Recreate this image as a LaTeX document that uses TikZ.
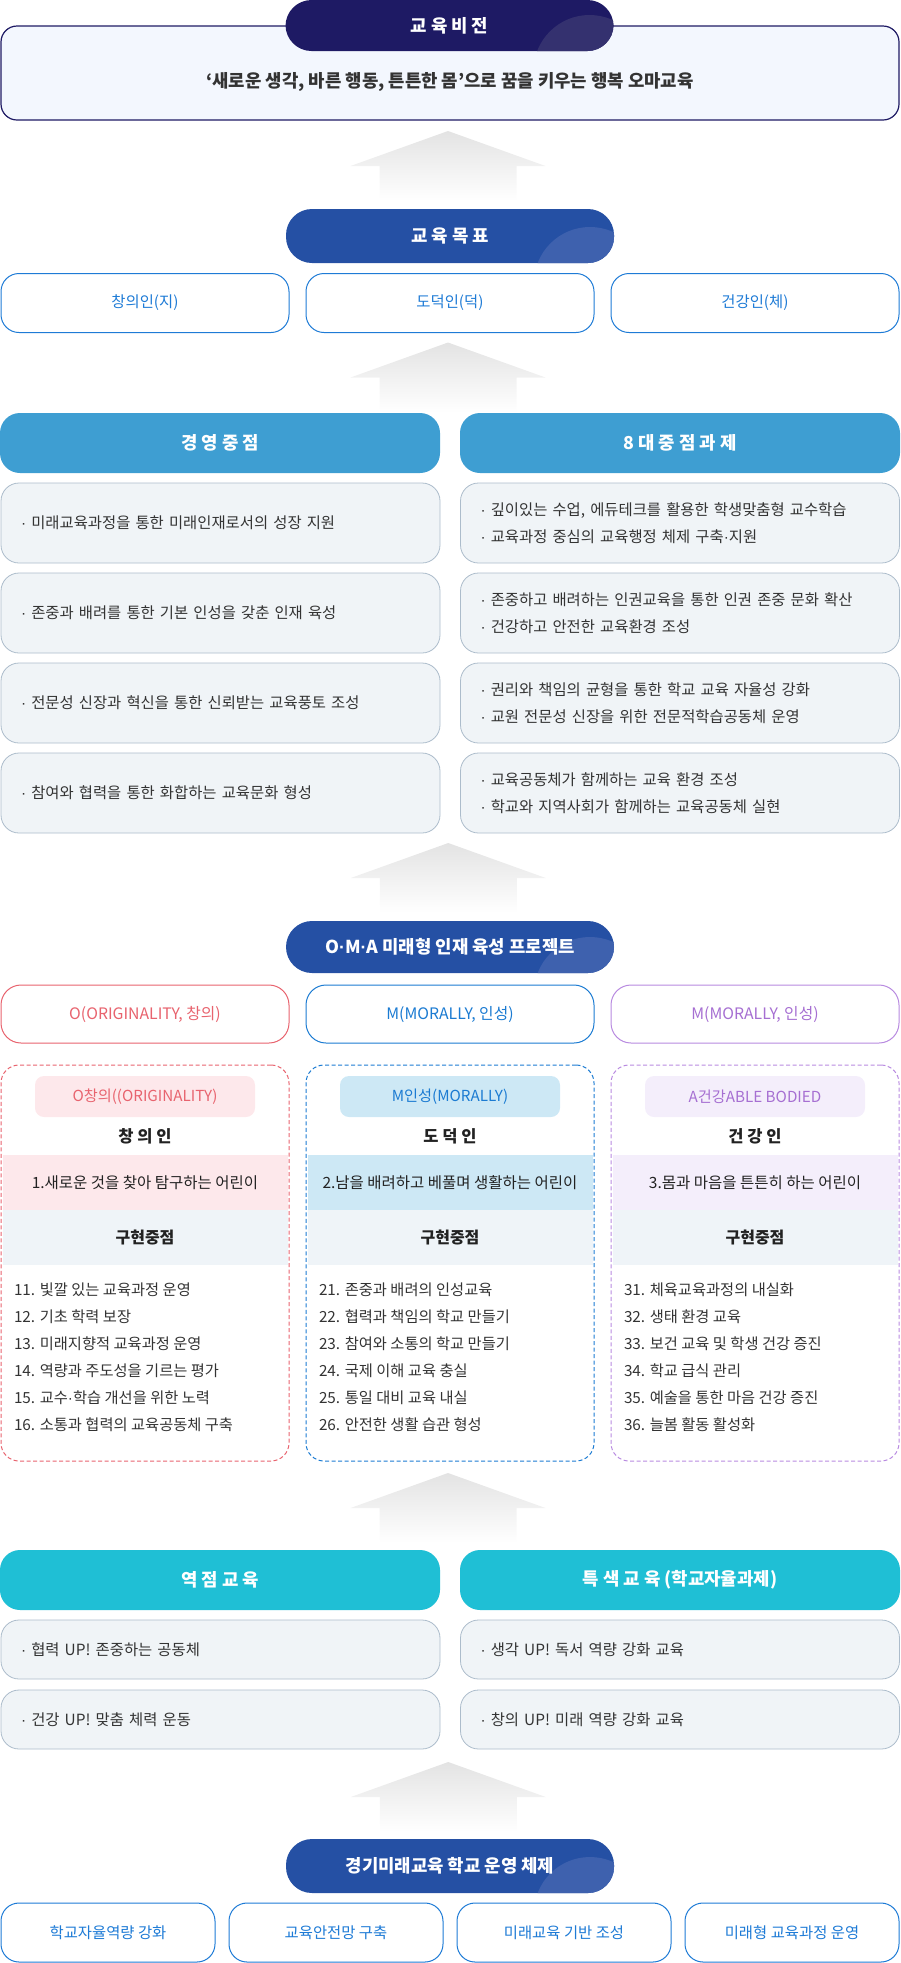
\documentclass[tikz,border=0pt]{standalone}
\usepackage{fontspec}
\usetikzlibrary{calc}
\setmainfont{Noto Sans CJK KR}
\newfontfamily\dotfont{Liberation Sans}
\newcommand\mdot{{\dotfont ·}}
\definecolor{navy}{HTML}{1E1A64}
\definecolor{deconavy}{HTML}{34316F}
\definecolor{pillblue}{HTML}{2550A4}
\definecolor{decoblue}{HTML}{3E61AE}
\definecolor{vfill}{HTML}{F3F7FE}
\definecolor{goalblue}{HTML}{1E7BD6}
\definecolor{hdrblue}{HTML}{3E9ED2}
\definecolor{hdrcyan}{HTML}{1FBFD5}
\definecolor{rowfill}{HTML}{F0F4F7}
\definecolor{rowline}{HTML}{ACBCCB}
\definecolor{txt}{HTML}{333333}
\definecolor{dark}{HTML}{222222}
\definecolor{ored}{HTML}{E8636E}
\definecolor{oredfill}{HTML}{FDE8EB}
\definecolor{mblue}{HTML}{1B7BD2}
\definecolor{mbluefill}{HTML}{CDE8F5}
\definecolor{apurple}{HTML}{A66FD2}
\definecolor{aline}{HTML}{B88AE0}
\definecolor{apfill}{HTML}{F4EEFB}
\definecolor{bandgray}{HTML}{EFF4F8}
\tikzset{
  uparrow/.pic={\shade[top color=black!11, bottom color=white]
    (0,0) -- (97.5,35) -- (68.5,35) -- (68.5,70) -- (-68.5,70) -- (-68.5,35) -- (-97.5,35) -- cycle;}
}
\begin{document}
\begin{tikzpicture}[x=1pt,y=-1pt,
  every node/.style={outer sep=0pt, inner sep=0pt},
  pill/.style={rectangle, rounded corners=26pt, minimum width=328pt, minimum height=#1,
    text=white, font=\bfseries\fontsize{17.8}{21}\selectfont},
  pill/.default=54pt,
  deco/.style={path picture={\fill[#1] ([xshift=-24pt,yshift=-20pt]path picture bounding box.south east) circle[radius=56pt];}},
  goalbox/.style={draw=goalblue, line width=1pt, fill=white, rounded corners=18pt,
    minimum width=#1, minimum height=59pt, text=goalblue, font=\fontsize{15.4}{18}\selectfont},
  hdr/.style={fill=#1, rounded corners=20pt, minimum width=440pt, minimum height=60pt,
    text=white, font=\bfseries\fontsize{17.8}{21}\selectfont},
  rowbox/.style={draw=rowline, line width=0.8pt, fill=rowfill, rounded corners=18pt,
    minimum height=#1, text width=399pt, inner xsep=20pt, align=left, text=txt,
    font=\fontsize{15.4}{27}\selectfont},
  rowbox/.default=80pt,
  omabox/.style={draw=#1, line width=1pt, fill=white, rounded corners=20pt,
    minimum width=288pt, minimum height=58pt, text=#1, font=\fontsize{15.8}{19}\selectfont},
  tagbox/.style={fill=#1, rounded corners=9pt, minimum width=220pt, minimum height=41pt,
    font=\fontsize{15.2}{18}\selectfont},
  band/.style={fill=#1, minimum width=285pt, minimum height=55pt, text=dark,
    font=\fontsize{15.5}{18}\selectfont},
  heading/.style={text=dark, font=\bfseries\fontsize{16.5}{19}\selectfont},
  dbox/.style={draw=#1, line width=1pt, dash pattern=on 4pt off 2.5pt, rounded corners=18pt,
    minimum width=288pt, minimum height=396pt},
  listtext/.style={anchor=west, align=left, text=txt, font=\fontsize{15.3}{27}\selectfont}
]
\useasboundingbox (0,0) rectangle (900,1963);

% ---------- vision ----------
\node[draw=navy, line width=1.2pt, fill=vfill, rounded corners=16pt,
  minimum width=898pt, minimum height=94pt] (vbox) at (450,73) {};
\node[text=txt, font=\bfseries\fontsize{17.8}{21}\selectfont] (vtext) at (450,82)
  {‘새로운 생각, 바른 행동, 튼튼한 몸’으로 꿈을 키우는 행복 오마교육};
\node[pill=51pt, fill=navy, deco=deconavy] (vpill) at (449.5,25.5) {교 육 비 전};

\pic at ([xshift=-2pt,yshift=-11pt]vbox.south) {uparrow};

% ---------- goals ----------
\node[pill, fill=pillblue, deco=decoblue] (gpill) at (450,236) {교 육 목 표};
\node[goalbox=288pt] (g1) at (145,303) {창의인(지)};
\node[goalbox=288pt] (g2) at (450,303) {도덕인(덕)};
\node[goalbox=288pt] (g3) at (755,303) {건강인(체)};

\pic at ([xshift=-2pt,yshift=-10pt]g2.south) {uparrow};

% ---------- 경영중점 / 8대 중점과제 ----------
\node[hdr=hdrblue] (h1) at (220,443) {경 영 중 점};
\node[hdr=hdrblue] (h2) at (680,443) {8 대 중 점 과 제};

\node[rowbox] (l1) at (220.5,523) {\mdot{} 미래교육과정을 통한 미래인재로서의 성장 지원};
\node[rowbox] (l2) at (220.5,613) {\mdot{} 존중과 배려를 통한 기본 인성을 갖춘 인재 육성};
\node[rowbox] (l3) at (220.5,703) {\mdot{} 전문성 신장과 혁신을 통한 신뢰받는 교육풍토 조성};
\node[rowbox] (l4) at (220.5,793) {\mdot{} 참여와 협력을 통한 화합하는 교육문화 형성};

\node[rowbox] (r1) at (680,523) {\mdot{} 깊이있는 수업, 에듀테크를 활용한 학생맞춤형 교수학습\\\mdot{} 교육과정 중심의 교육행정 체제 구축\mdot{}지원};
\node[rowbox] (r2) at (680,613) {\mdot{} 존중하고 배려하는 인권교육을 통한 인권 존중 문화 확산\\\mdot{} 건강하고 안전한 교육환경 조성};
\node[rowbox] (r3) at (680,703) {\mdot{} 권리와 책임의 균형을 통한 학교 교육 자율성 강화\\\mdot{} 교원 전문성 신장을 위한 전문적학습공동체 운영};
\node[rowbox] (r4) at (680,793) {\mdot{} 교육공동체가 함께하는 교육 환경 조성\\\mdot{} 학교와 지역사회가 함께하는 교육공동체 실현};

\pic at ([xshift=-2pt,yshift=-10pt]$(l4.south)!0.5!(r4.south)$) {uparrow};

% ---------- OMA ----------
\node[pill=52pt, fill=pillblue, deco=decoblue] (opill) at (450,947) {O\mdot{}M\mdot{}A 미래형 인재 육성 프로젝트};
\node[omabox=ored] (ob) at (145,1014) {O(ORIGINALITY, 창의)};
\node[omabox=mblue] (mb) at (450,1014) {M(MORALLY, 인성)};
\node[omabox=apurple, draw=aline] (ab) at (755,1014) {M(MORALLY, 인성)};

% column O
\node[band=oredfill] (ob1) at (145,1182.5) {1.새로운 것을 찾아 탐구하는 어린이};
\node[band=bandgray, font=\bfseries\fontsize{16}{19}\selectfont] (ob2) at (145,1237.5) {구현중점};
\node[dbox=ored] (od) at (145,1263) {};
\node[tagbox=oredfill, text=ored] (ot) at (145,1096.5) {O창의((ORIGINALITY)};
\node[heading] (oh) at (145,1136) {창 의 인};
\node[listtext] (ol) at (14,1357.5) {11. 빛깔 있는 교육과정 운영\\12. 기초 학력 보장\\13. 미래지향적 교육과정 운영\\14. 역량과 주도성을 기르는 평가\\15. 교수\mdot{}학습 개선을 위한 노력\\16. 소통과 협력의 교육공동체 구축};

% column M
\node[band=mbluefill] (mb1) at (450,1182.5) {2.남을 배려하고 베풀며 생활하는 어린이};
\node[band=bandgray, font=\bfseries\fontsize{16}{19}\selectfont] (mb2) at (450,1237.5) {구현중점};
\node[dbox=mblue] (md) at (450,1263) {};
\node[tagbox=mbluefill, text=mblue] (mt) at (450,1096.5) {M인성(MORALLY)};
\node[heading] (mh) at (450,1136) {도 덕 인};
\node[listtext] (ml) at (319,1357.5) {21. 존중과 배려의 인성교육\\22. 협력과 책임의 학교 만들기\\23. 참여와 소통의 학교 만들기\\24. 국제 이해 교육 충실\\25. 통일 대비 교육 내실\\26. 안전한 생활 습관 형성};

% column A
\node[band=apfill] (ab1) at (755,1182.5) {3.몸과 마음을 튼튼히 하는 어린이};
\node[band=bandgray, font=\bfseries\fontsize{16}{19}\selectfont] (ab2) at (755,1237.5) {구현중점};
\node[dbox=aline] (ad) at (755,1263) {};
\node[tagbox=apfill, text=apurple] (at) at (755,1096.5) {A건강ABLE BODIED};
\node[heading] (ah) at (755,1136) {건 강 인};
\node[listtext] (al) at (624,1357.5) {31. 체육교육과정의 내실화\\32. 생태 환경 교육\\33. 보건 교육 및 학생 건강 증진\\34. 학교 급식 관리\\35. 예술을 통한 마음 건강 증진\\36. 늘봄 활동 활성화};

\pic at ([xshift=-2pt,yshift=-12pt]md.south) {uparrow};

% ---------- 역점 / 특색 ----------
\node[hdr=hdrcyan] (h3) at (220,1580) {역 점 교 육};
\node[hdr=hdrcyan] (h4) at (680,1580) {특 색 교 육 (학교자율과제)};
\node[rowbox=59pt] (e1) at (220.5,1649.5) {\mdot{} 협력 UP! 존중하는 공동체};
\node[rowbox=59pt] (e2) at (220.5,1719.5) {\mdot{} 건강 UP! 맞춤 체력 운동};
\node[rowbox=59pt] (s1) at (680,1649.5) {\mdot{} 생각 UP! 독서 역량 강화 교육};
\node[rowbox=59pt] (s2) at (680,1719.5) {\mdot{} 창의 UP! 미래 역량 강화 교육};

\pic at ([xshift=-2pt,yshift=-13pt]$(e2.south)!0.5!(s2.south)$) {uparrow};

% ---------- 경기미래교육 ----------
\node[pill, fill=pillblue, deco=decoblue] (kpill) at (450,1866) {경기미래교육 학교 운영 체제};
\node[goalbox=214pt] (b1) at (108,1932.5) {학교자율역량 강화};
\node[goalbox=214pt] (b2) at (336,1932.5) {교육안전망 구축};
\node[goalbox=214pt] (b3) at (564,1932.5) {미래교육 기반 조성};
\node[goalbox=214pt] (b4) at (792,1932.5) {미래형 교육과정 운영};
\end{tikzpicture}
\end{document}
